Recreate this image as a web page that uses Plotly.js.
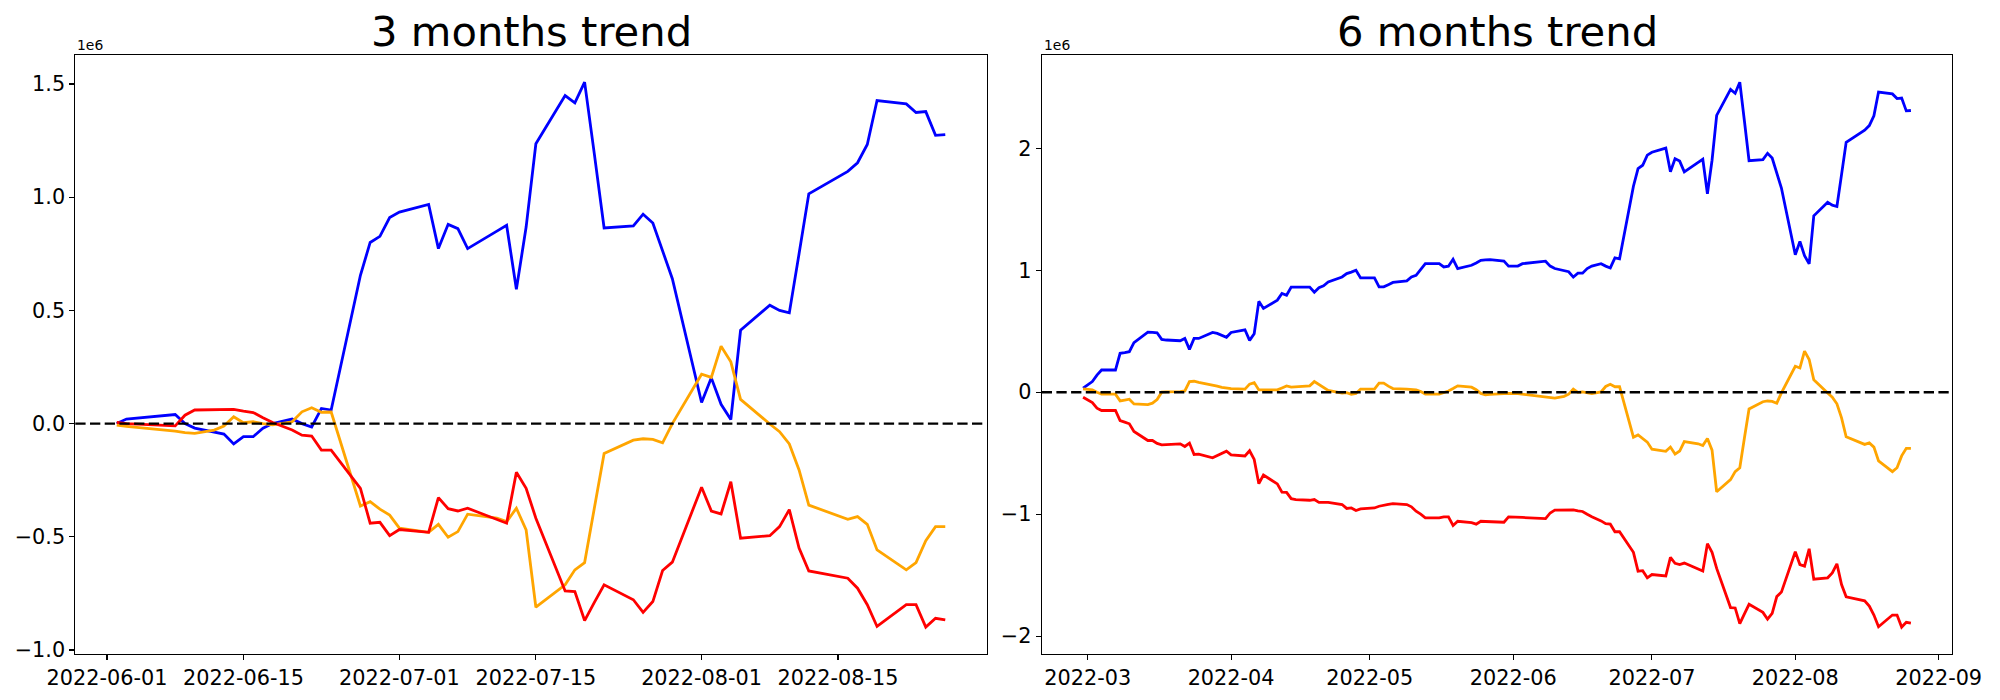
<!DOCTYPE html>
<html>
<head>
<meta charset="utf-8">
<script src="https://cdn.plot.ly/plotly-3.0.1.min.js"></script>
<style>html,body{margin:0;padding:0;background:#fff}#chart{width:2000px;height:700px}</style>
</head>
<body>
<div id="chart"></div>
<script>
// ---------- 3 months data (values in units of 1e6) ----------
const dates3m = ["2022-06-02","2022-06-03","2022-06-08","2022-06-09","2022-06-10","2022-06-12","2022-06-13","2022-06-14","2022-06-15","2022-06-16","2022-06-17","2022-06-18","2022-06-20","2022-06-21","2022-06-22","2022-06-23","2022-06-24","2022-06-27","2022-06-28","2022-06-29","2022-06-30",
"2022-07-01","2022-07-04","2022-07-05","2022-07-06","2022-07-07","2022-07-08","2022-07-11","2022-07-12","2022-07-13","2022-07-14","2022-07-15","2022-07-18","2022-07-19","2022-07-20","2022-07-21","2022-07-22","2022-07-25","2022-07-26","2022-07-27","2022-07-28","2022-07-29",
"2022-08-01","2022-08-02","2022-08-03","2022-08-04","2022-08-05","2022-08-08","2022-08-09","2022-08-10","2022-08-11","2022-08-12","2022-08-16","2022-08-17","2022-08-18","2022-08-19","2022-08-22","2022-08-23","2022-08-24","2022-08-25","2022-08-26"];

const blue3m = [0.0,0.02,0.04,0.0,-0.02,-0.036,-0.046,-0.09,-0.058,-0.058,-0.02,0.0,0.02,0.0,-0.015,0.067,0.06,0.655,0.80,0.827,0.91,
0.934,0.968,0.773,0.88,0.861,0.773,0.85,0.876,0.593,0.868,1.236,1.449,1.417,1.508,1.19,0.864,0.873,0.925,0.886,0.76,0.64,
0.093,0.202,0.085,0.018,0.412,0.523,0.50,0.489,0.75,1.015,1.114,1.152,1.233,1.427,1.412,1.374,1.378,1.273,1.276];

const orange3m = [-0.007,-0.012,-0.033,-0.04,-0.043,-0.029,-0.011,0.03,0.004,0.008,0.0,-0.006,0.008,0.052,0.07,0.05,0.051,-0.364,-0.345,-0.378,-0.404,
-0.462,-0.48,-0.445,-0.502,-0.477,-0.40,-0.418,-0.433,-0.374,-0.47,-0.811,-0.712,-0.646,-0.614,-0.37,-0.132,-0.073,-0.067,-0.07,-0.085,0.0,
0.218,0.204,0.342,0.273,0.107,-0.002,-0.036,-0.09,-0.205,-0.36,-0.423,-0.411,-0.445,-0.558,-0.646,-0.614,-0.517,-0.455,-0.455];

const red3m = [0.005,0.0,-0.01,0.037,0.06,0.06,0.06,0.063,0.055,0.049,0.026,0.005,-0.028,-0.051,-0.055,-0.117,-0.117,-0.286,-0.44,-0.436,-0.495,
-0.468,-0.48,-0.327,-0.376,-0.386,-0.374,-0.425,-0.44,-0.215,-0.286,-0.418,-0.739,-0.742,-0.87,-0.79,-0.712,-0.778,-0.834,-0.786,-0.649,-0.612,
-0.281,-0.386,-0.399,-0.257,-0.506,-0.495,-0.455,-0.38,-0.55,-0.651,-0.683,-0.727,-0.80,-0.896,-0.80,-0.80,-0.899,-0.86,-0.867];

// ---------- 6 months data (values in units of 1e6) ----------
const dates6m = ["2022-02-28",
"2022-03-01","2022-03-02","2022-03-03","2022-03-04","2022-03-07","2022-03-08","2022-03-09","2022-03-10","2022-03-11","2022-03-14","2022-03-15","2022-03-16","2022-03-17","2022-03-18","2022-03-21","2022-03-22","2022-03-23","2022-03-24","2022-03-25","2022-03-28","2022-03-29","2022-03-30","2022-03-31",
"2022-04-01","2022-04-04","2022-04-05","2022-04-06","2022-04-07","2022-04-08","2022-04-11","2022-04-12","2022-04-13","2022-04-14","2022-04-15","2022-04-18","2022-04-19","2022-04-20","2022-04-21","2022-04-22","2022-04-25","2022-04-26","2022-04-27","2022-04-28","2022-04-29",
"2022-05-02","2022-05-03","2022-05-04","2022-05-05","2022-05-06","2022-05-09","2022-05-10","2022-05-11","2022-05-12","2022-05-13","2022-05-16","2022-05-17","2022-05-18","2022-05-19","2022-05-20","2022-05-23","2022-05-24","2022-05-25","2022-05-26","2022-05-27","2022-05-30","2022-05-31",
"2022-06-02","2022-06-03","2022-06-08","2022-06-09","2022-06-10","2022-06-12","2022-06-13","2022-06-14","2022-06-15","2022-06-16","2022-06-17","2022-06-18","2022-06-20","2022-06-21","2022-06-22","2022-06-23","2022-06-24","2022-06-27","2022-06-28","2022-06-29","2022-06-30",
"2022-07-01","2022-07-04","2022-07-05","2022-07-06","2022-07-07","2022-07-08","2022-07-11","2022-07-12","2022-07-13","2022-07-14","2022-07-15","2022-07-18","2022-07-19","2022-07-20","2022-07-21","2022-07-22","2022-07-25","2022-07-26","2022-07-27","2022-07-28","2022-07-29",
"2022-08-01","2022-08-02","2022-08-03","2022-08-04","2022-08-05","2022-08-08","2022-08-09","2022-08-10","2022-08-11","2022-08-12","2022-08-16","2022-08-17","2022-08-18","2022-08-19","2022-08-22","2022-08-23","2022-08-24","2022-08-25","2022-08-26"];

const blue6m = [0.033,
0.06,0.087,0.14,0.182,0.182,0.319,0.325,0.332,0.406,0.493,0.49,0.487,0.433,0.428,0.422,0.441,0.351,0.441,0.441,0.49,0.482,0.465,0.45,
0.49,0.512,0.425,0.48,0.745,0.687,0.755,0.81,0.795,0.862,0.862,0.862,0.82,0.857,0.873,0.904,0.945,0.973,0.985,1.0,0.937,
0.937,0.864,0.864,0.882,0.9,0.913,0.945,0.959,1.01,1.055,1.055,1.027,1.033,1.09,1.014,1.041,1.06,1.082,1.085,1.087,1.075,1.034,
1.034,1.054,1.074,1.034,1.014,0.998,0.988,0.944,0.976,0.976,1.014,1.034,1.054,1.034,1.019,1.101,1.094,1.689,1.834,1.861,1.944,
1.968,2.002,1.807,1.914,1.895,1.807,1.884,1.910,1.627,1.902,2.270,2.483,2.451,2.542,2.224,1.898,1.907,1.959,1.920,1.794,1.674,
1.127,1.236,1.119,1.052,1.446,1.557,1.534,1.523,1.784,2.049,2.148,2.186,2.267,2.461,2.446,2.408,2.412,2.307,2.310];

const orange6m = [0.027,
0.023,0.019,0.0,-0.016,-0.016,-0.071,-0.064,-0.057,-0.096,-0.101,-0.09,-0.06,0.0,0.003,0.005,0.011,0.087,0.09,0.08,0.06,0.05,0.04,0.035,
0.03,0.025,0.066,0.079,0.019,0.019,0.019,0.035,0.052,0.041,0.045,0.052,0.087,0.062,0.04,0.015,-0.008,-0.003,-0.018,-0.01,0.026,
0.025,0.074,0.074,0.05,0.03,0.025,0.022,0.02,0.005,-0.015,-0.015,-0.005,0.01,0.03,0.052,0.041,0.02,-0.01,-0.022,-0.018,-0.008,-0.01,
-0.012,-0.017,-0.038,-0.045,-0.048,-0.034,-0.016,0.025,-0.001,0.003,-0.005,-0.011,0.003,0.047,0.065,0.045,0.046,-0.369,-0.350,-0.383,-0.409,
-0.467,-0.485,-0.450,-0.507,-0.482,-0.405,-0.423,-0.438,-0.379,-0.475,-0.816,-0.717,-0.651,-0.619,-0.375,-0.137,-0.078,-0.072,-0.075,-0.090,-0.005,
0.213,0.199,0.337,0.268,0.102,-0.007,-0.041,-0.095,-0.210,-0.365,-0.428,-0.416,-0.450,-0.563,-0.651,-0.619,-0.522,-0.460,-0.460];

const red6m = [-0.041,
-0.06,-0.085,-0.131,-0.15,-0.15,-0.232,-0.245,-0.259,-0.322,-0.396,-0.396,-0.42,-0.431,-0.428,-0.423,-0.445,-0.417,-0.51,-0.507,-0.538,-0.521,-0.5,-0.483,
-0.513,-0.523,-0.48,-0.551,-0.75,-0.679,-0.752,-0.82,-0.821,-0.873,-0.88,-0.886,-0.88,-0.903,-0.903,-0.903,-0.921,-0.953,-0.949,-0.97,-0.957,
-0.949,-0.935,-0.93,-0.92,-0.913,-0.921,-0.94,-0.976,-1.0,-1.03,-1.03,-1.022,-1.022,-1.093,-1.058,-1.07,-1.082,-1.058,-1.06,-1.063,-1.066,-1.022,
-1.022,-1.027,-1.037,-0.990,-0.967,-0.967,-0.967,-0.964,-0.972,-0.978,-1.001,-1.022,-1.055,-1.078,-1.082,-1.144,-1.144,-1.313,-1.467,-1.463,-1.522,
-1.495,-1.507,-1.354,-1.403,-1.413,-1.401,-1.452,-1.467,-1.242,-1.313,-1.445,-1.766,-1.769,-1.897,-1.817,-1.739,-1.805,-1.861,-1.813,-1.676,-1.639,
-1.308,-1.413,-1.426,-1.284,-1.533,-1.522,-1.482,-1.407,-1.577,-1.678,-1.710,-1.754,-1.827,-1.923,-1.827,-1.827,-1.926,-1.887,-1.894];

// ---------- ticks ----------
const xTicks3m = ["2022-06-01","2022-06-15","2022-07-01","2022-07-15","2022-08-01","2022-08-15"];
const xTickText3m = ["2022-06-01","2022-06-15","2022-07-01","2022-07-15","2022-08-01","2022-08-15"];
const xTicks6m = ["2022-03-01","2022-04-01","2022-05-01","2022-06-01","2022-07-01","2022-08-01","2022-09-01"];
const xTickText6m = ["2022-03","2022-04","2022-05","2022-06","2022-07","2022-08","2022-09"];
const yTicks3m = [-1.0,-0.5,0.0,0.5,1.0,1.5];
const yTicks6m = [-2,-1,0,1,2];
const titles = ["3 months trend","6 months trend"];

const COLORS = {blue:"#0000ff", orange:"#ffa500", red:"#ff0000"};
const FONT = "DejaVu Sans, Liberation Sans, sans-serif";
const LW = 2.8;

function line(x, y, color, xa, ya) {
  return {x:x, y:y, type:"scatter", mode:"lines", xaxis:xa, yaxis:ya,
          line:{color:color, width:LW}, hoverinfo:"skip", showlegend:false};
}

const traces = [
  line(dates3m, blue3m, COLORS.blue, "x", "y"),
  line(dates3m, orange3m, COLORS.orange, "x", "y"),
  line(dates3m, red3m, COLORS.red, "x", "y"),
  line(dates6m, blue6m, COLORS.blue, "x2", "y2"),
  line(dates6m, orange6m, COLORS.orange, "x2", "y2"),
  line(dates6m, red6m, COLORS.red, "x2", "y2")
];

const yDom = [1 - 654.3/700, 1 - 55/700];
const axisCommon = {
  showgrid:false, zeroline:false, showline:true, mirror:true,
  linecolor:"#000", linewidth:1.1, ticks:"outside", ticklen:4.9, tickwidth:1.1, tickcolor:"#000",
  tickfont:{family:FONT, size:20.8, color:"#000"}, fixedrange:true
};

const layout = {
  width:2000, height:700,
  margin:{l:0, r:0, t:0, b:0},
  paper_bgcolor:"#fff", plot_bgcolor:"#fff",
  showlegend:false,
  xaxis: Object.assign({}, axisCommon, {type:"date", domain:[75.3/2000, 986.7/2000], anchor:"y",
    range:["2022-05-28 18:00","2022-08-30 06:00"], tickmode:"array", tickvals:xTicks3m, ticktext:xTickText3m}),
  yaxis: Object.assign({}, axisCommon, {domain:yDom, anchor:"x", range:[-1.019, 1.628],
    tickmode:"array", tickvals:yTicks3m, ticktext:yTicks3m.map(v => (v<0?"\u2212":"") + Math.abs(v).toFixed(1))}),
  xaxis2: Object.assign({}, axisCommon, {type:"date", domain:[1041.7/2000, 1952.3/2000], anchor:"y2",
    range:["2022-02-19 01:12","2022-09-03 22:48"], tickmode:"array", tickvals:xTicks6m, ticktext:xTickText6m}),
  yaxis2: Object.assign({}, axisCommon, {domain:yDom, anchor:"x2", range:[-2.149, 2.765],
    tickmode:"array", tickvals:yTicks6m, ticktext:yTicks6m.map(v => (v<0?"\u2212":"") + Math.abs(v))}),
  shapes: [
    {type:"line", xref:"x domain", x0:0, x1:1, yref:"y", y0:0, y1:0, layer:"above",
     line:{color:"#000", width:2.4, dash:"10.3px,4.4px"}},
    {type:"line", xref:"x2 domain", x0:0, x1:1, yref:"y2", y0:0, y1:0, layer:"above",
     line:{color:"#000", width:2.4, dash:"10.3px,4.4px"}}
  ],
  annotations: [
    {xref:"x domain", yref:"y domain", x:0.5, y:1, xanchor:"center", yanchor:"bottom", yshift:-3,
     text:titles[0], showarrow:false, font:{family:FONT, size:41.7, color:"#000"}},
    {xref:"x2 domain", yref:"y2 domain", x:0.5, y:1, xanchor:"center", yanchor:"bottom", yshift:-3,
     text:titles[1], showarrow:false, font:{family:FONT, size:41.7, color:"#000"}},
    {xref:"x domain", yref:"y domain", x:0, y:1, xanchor:"left", yanchor:"bottom", yshift:0,
     text:"1e6", showarrow:false, font:{family:FONT, size:13.9, color:"#000"}},
    {xref:"x2 domain", yref:"y2 domain", x:0, y:1, xanchor:"left", yanchor:"bottom", yshift:0,
     text:"1e6", showarrow:false, font:{family:FONT, size:13.9, color:"#000"}}
  ]
};

Plotly.newPlot("chart", traces, layout, {displayModeBar:false, staticPlot:true});
</script>
</body>
</html>
